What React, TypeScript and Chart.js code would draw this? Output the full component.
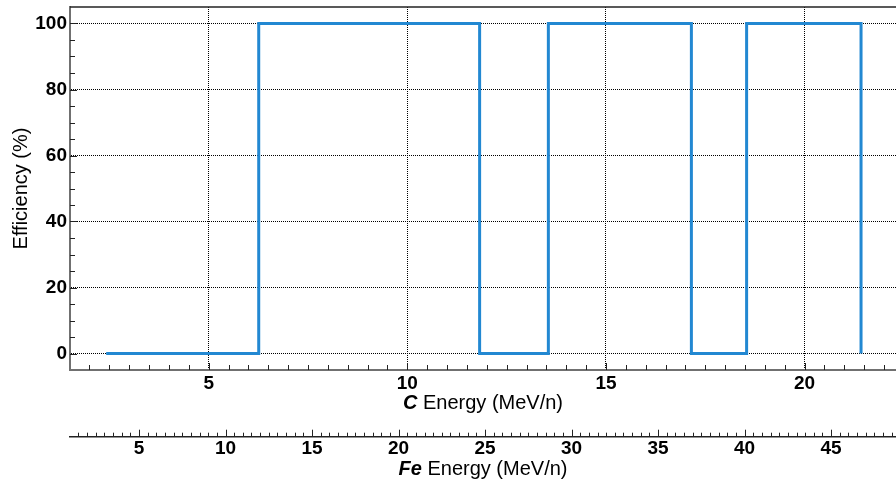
import React, { useEffect, useRef } from "react";
import { Chart, registerables } from "chart.js";

Chart.register(...registerables);

// ---- data ----
const C_ENERGY = [2.42, 6.26, 11.82, 13.55, 17.15, 18.54, 21.42]; // MeV/n, step edges
const EFFICIENCY = [0, 100, 0, 100, 0, 100, 0]; // %
const C_TICKS = [5, 10, 15, 20];
const FE_TICKS = [5, 10, 15, 20, 25, 30, 35, 40, 45];
const Y_TICKS = [0, 20, 40, 60, 80, 100];
const C_RANGE = [1.51, 22.3];
const FE_RANGE = [1.01, 48.75];
const Y_RANGE = [-5, 105];

const BLUE = "#2288d2";
const FONT = "'Liberation Sans', Arial, sans-serif";

const ticksPlugin = {
  id: "customTicks",
  afterDraw(chart: any) {
    const { ctx, chartArea } = chart;
    const x = chart.scales.x;
    const fe = chart.scales.fe;
    const y = chart.scales.y;
    ctx.save();
    // top frame line
    ctx.strokeStyle = "#222";
    ctx.lineWidth = 1.5;
    ctx.beginPath();
    ctx.moveTo(chartArea.left, chartArea.top);
    ctx.lineTo(chartArea.right, chartArea.top);
    ctx.stroke();

    // C axis ticks (inside, upward)
    ctx.strokeStyle = "#222";
    ctx.lineWidth = 1;
    for (let v = Math.ceil(C_RANGE[0] * 2) / 2; v <= C_RANGE[1]; v += 0.5) {
      const px = Math.round(x.getPixelForValue(v)) + 0.5;
      const major = Math.abs(v / 5 - Math.round(v / 5)) < 1e-6;
      const len = major ? 7 : 5;
      ctx.beginPath();
      ctx.moveTo(px, chartArea.bottom);
      ctx.lineTo(px, chartArea.bottom - len);
      ctx.stroke();
    }
    // Y axis ticks (inside, rightward)
    for (let v = 0; v <= 100; v += 5) {
      const py = Math.round(y.getPixelForValue(v)) + 0.5;
      const major = v % 20 === 0;
      const len = major ? 7 : 5;
      ctx.beginPath();
      ctx.moveTo(chartArea.left, py);
      ctx.lineTo(chartArea.left + len, py);
      ctx.stroke();
    }
    // Fe axis ticks (upward from its line)
    for (let v = Math.ceil(FE_RANGE[0] * 2) / 2; v <= FE_RANGE[1]; v += 0.5) {
      const px = Math.round(fe.getPixelForValue(v)) + 0.5;
      const major = Math.abs(v / 5 - Math.round(v / 5)) < 1e-6;
      const len = major ? 7 : 4;
      ctx.beginPath();
      ctx.moveTo(px, fe.top);
      ctx.lineTo(px, fe.top - len);
      ctx.stroke();
    }

    // mixed-style axis titles
    const drawTitle = (lead: string, rest: string, baseline: number) => {
      ctx.fillStyle = "#000";
      ctx.textBaseline = "alphabetic";
      ctx.textAlign = "left";
      const leadFont = `italic bold 20px ${FONT}`;
      const restFont = `20px ${FONT}`;
      ctx.font = leadFont;
      const w1 = ctx.measureText(lead).width;
      ctx.font = restFont;
      const w2 = ctx.measureText(rest).width;
      const cx = (chartArea.left + chartArea.right) / 2;
      let sx = cx - (w1 + w2) / 2;
      ctx.font = leadFont;
      ctx.fillText(lead, sx, baseline);
      ctx.font = restFont;
      ctx.fillText(rest, sx + w1, baseline);
    };
    drawTitle("C", " Energy (MeV/n)", x.top + 39);
    drawTitle("Fe", " Energy (MeV/n)", fe.top + 38);
    ctx.restore();
  },
};

export default function App() {
  const ref = useRef<HTMLCanvasElement>(null);
  useEffect(() => {
    if (!ref.current) return;
    const points = C_ENERGY.map((e, i) => ({ x: e, y: EFFICIENCY[i] }));
    const chart = new Chart(ref.current, {
      type: "line",
      data: {
        datasets: [
          {
            data: points,
            xAxisID: "x",
            yAxisID: "y",
            borderColor: BLUE,
            borderWidth: 3,
            stepped: "before",
            pointRadius: 0,
            fill: false,
            borderJoinStyle: "miter",
            borderCapStyle: "butt",
          },
        ],
      },
      options: {
        responsive: false,
        animation: false,
        layout: { padding: { top: 7, left: 0, right: 0, bottom: 0 } },
        plugins: { legend: { display: false }, tooltip: { enabled: false } },
        scales: {
          x: {
            type: "linear",
            position: "bottom",
            weight: 0,
            min: C_RANGE[0],
            max: C_RANGE[1],
            afterBuildTicks: (s: any) => {
              s.ticks = C_TICKS.map((v) => ({ value: v }));
            },
            afterFit: (s: any) => {
              s.height = 66.7;
              s.paddingLeft = 0;
              s.paddingRight = 0;
            },
            grid: { color: "#000", lineWidth: 1, drawTicks: false },
            border: { display: true, color: "#707070", width: 2, dash: [1, 1] },
            ticks: {
              color: "#000",
              padding: 2,
              font: { family: FONT, size: 19, weight: "bold" },
              maxRotation: 0,
              autoSkip: false,
            },
          },
          fe: {
            type: "linear",
            position: "bottom",
            weight: 1,
            min: FE_RANGE[0],
            max: FE_RANGE[1],
            afterBuildTicks: (s: any) => {
              s.ticks = FE_TICKS.map((v) => ({ value: v }));
            },
            afterFit: (s: any) => {
              s.height = 43.3;
              s.paddingLeft = 0;
              s.paddingRight = 0;
            },
            grid: { display: false, drawTicks: false },
            border: { display: true, color: "#222", width: 1.5 },
            ticks: {
              color: "#000",
              padding: 1,
              font: { family: FONT, size: 19, weight: "bold" },
              maxRotation: 0,
              autoSkip: false,
            },
          },
          y: {
            type: "linear",
            position: "left",
            min: Y_RANGE[0],
            max: Y_RANGE[1],
            afterBuildTicks: (s: any) => {
              s.ticks = Y_TICKS.map((v) => ({ value: v }));
            },
            afterFit: (s: any) => {
              s.width = 70;
              s.paddingTop = 0;
              s.paddingBottom = 0;
            },
            grid: { color: "#000", lineWidth: 1, drawTicks: false },
            border: { display: true, color: "#707070", width: 2, dash: [1, 1] },
            title: {
              display: true,
              text: "Efficiency (%)",
              color: "#000",
              font: { family: FONT, size: 20, weight: "normal" },
              padding: { top: 9, bottom: 0 },
            },
            ticks: {
              color: "#000",
              padding: 3,
              font: { family: FONT, size: 19, weight: "bold" },
            },
          },
        },
      },
      plugins: [ticksPlugin],
    });
    return () => chart.destroy();
  }, []);
  return (
    <div style={{ position: "fixed", left: 0, top: 0, width: 896, height: 480, background: "#fff" }}>
      <canvas ref={ref} width={896} height={480} style={{ display: "block" }} />
    </div>
  );
}
